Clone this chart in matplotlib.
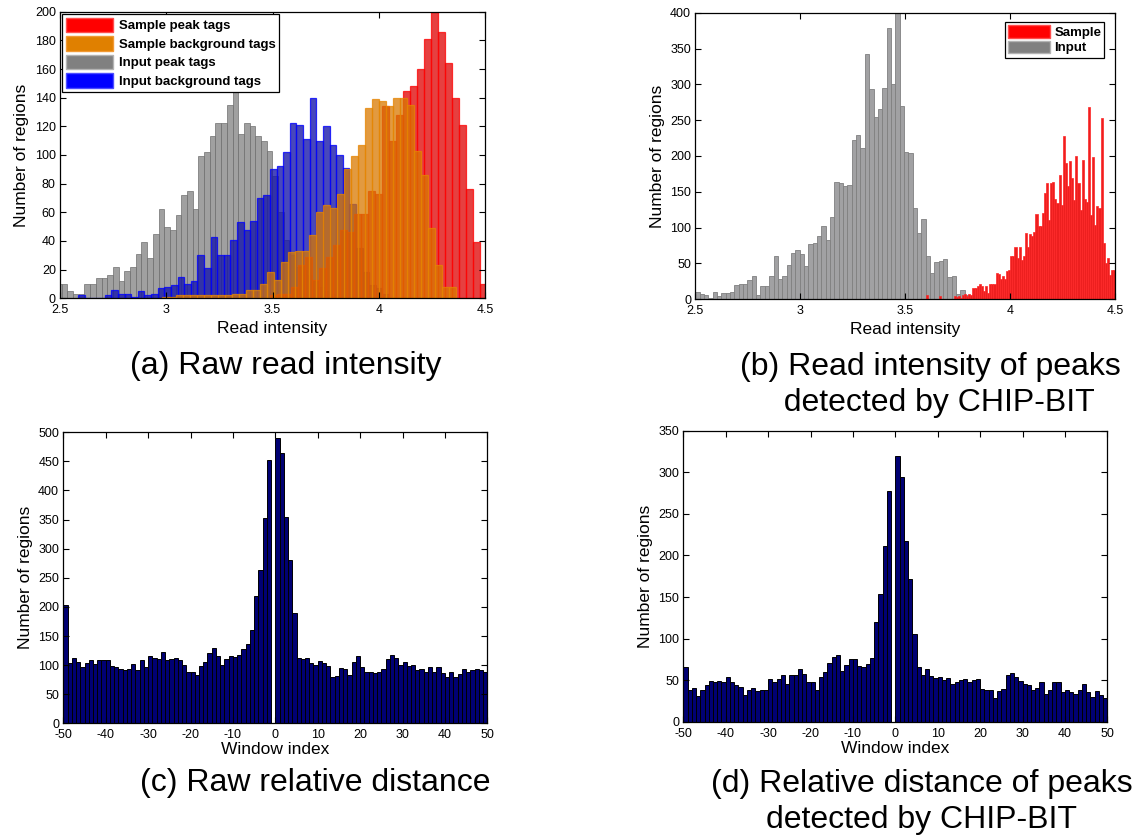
import numpy as np
import matplotlib.pyplot as plt
from matplotlib.patches import Patch

plt.rcParams['font.family'] = ['Liberation Sans', 'DejaVu Sans']
plt.rcParams['axes.unicode_minus'] = False

# ---- (a) raw read intensity: per-series histogram (bin start, bin width, counts)
a_sample_peak_start, a_sample_peak_width = 3.489, 0.0329
a_sample_peak = [2, 3, 3, 8, 23, 29, 13, 21, 29, 37, 48, 46, 59, 59, 75, 73,
                 134, 110, 128, 145, 148, 160, 181, 200, 186, 164, 140, 121, 76, 39, 10]

a_sample_bg_start, a_sample_bg_width = 2.9796, 0.0329
a_sample_bg = [1, 1, 2, 2, 2, 2, 2, 2, 2, 2, 3, 3, 6, 6, 10, 18, 13, 25, 32, 33,
               33, 44, 60, 65, 63, 73, 90, 99, 107, 133, 139, 138, 134, 140, 140,
               135, 103, 86, 49, 23, 8, 8]

a_input_peak_start, a_input_peak_width = 2.481, 0.0268
a_input_peak = [10, 10, 5, 3, 3, 10, 10, 14, 14, 16, 22, 12, 19, 22, 31, 39, 28,
                45, 62, 50, 48, 58, 72, 75, 62, 99, 102, 113, 122, 122, 135, 148,
                115, 122, 120, 113, 110, 103, 85, 60, 41, 30, 22, 20, 16, 12, 8, 5, 3]

a_input_bg_start, a_input_bg_width = 2.5864, 0.0311
a_input_bg = [2, 0, 0, 0, 2, 6, 3, 3, 1, 5, 2, 3, 7, 8, 9, 15, 10, 12, 30, 21,
              43, 30, 30, 41, 53, 48, 54, 70, 72, 90, 92, 102, 122, 121, 111, 140,
              110, 120, 107, 100, 91, 66, 35, 18, 9, 7, 3]

# ---- (b) read intensity of peaks detected by CHIP-BIT
b_input_start, b_input_width = 2.5, 0.0207
b_input = [10, 8, 6.5, 2, 10, 5, 9, 9, 10, 20, 22, 22, 27, 33, 6, 19, 19, 32, 61,
           28, 32, 48, 65, 69, 63, 46, 77, 79, 89, 102, 83, 115, 164, 163, 158,
           160, 223, 230, 211, 342, 294, 255, 265, 295, 378, 300, 400, 270, 206,
           204, 127, 92, 112, 60, 36, 52, 54, 56, 31, 32, 7, 13, 6, 3]

b_sample_start, b_sample_width = 3.6, 0.01
b_sample = [6, 0, 0, 0, 0, 0, 4, 0, 0, 0, 1, 0, 0, 4, 3, 4, 2, 6, 7, 5,
            8, 6, 16, 16, 19, 22, 18, 12, 18, 9, 21, 21, 21, 36, 35, 28, 33, 28, 40, 41,
            60, 60, 73, 58, 73, 55, 60, 92, 73, 91, 88, 94, 119, 102, 102, 121, 149,
            163, 110, 162, 164, 140, 134, 174, 132, 228, 190, 158, 193, 169, 139,
            200, 162, 125, 194, 140, 136, 268, 118, 199, 104, 130, 128, 253, 79,
            50, 58, 34, 41, 41]

# ---- (c), (d) relative distance, windows -50..50 (one count per window)
window_edges = np.arange(-50, 51)
c_counts = [203, 104, 112, 106, 96, 104, 109, 102, 108, 108,
            109, 98, 96, 94, 92, 93, 102, 92, 108, 97,
            116, 112, 110, 122, 109, 110, 112, 108, 101, 89,
            88, 83, 99, 106, 120, 130, 116, 101, 110, 116,
            114, 117, 127, 136, 160, 218, 264, 352, 452, 0,
            490, 465, 355, 280, 190, 112, 110, 113, 104, 100,
            107, 104, 98, 80, 82, 95, 93, 83, 106, 115,
            96, 88, 89, 86, 89, 93, 110, 118, 112, 101,
            105, 99, 100, 91, 94, 89, 97, 88, 97, 86,
            79, 89, 80, 85, 94, 88, 91, 93, 91, 88]
d_counts = [66, 38, 41, 31, 39, 44, 49, 48, 49, 48,
            54, 48, 45, 42, 32, 39, 41, 37, 39, 38,
            52, 48, 52, 56, 46, 56, 57, 64, 58, 48,
            48, 38, 54, 60, 71, 78, 80, 61, 68, 76,
            76, 67, 66, 70, 77, 120, 154, 211, 277, 0,
            320, 294, 217, 172, 106, 66, 56, 64, 55, 53,
            54, 50, 53, 46, 48, 50, 52, 48, 50, 52,
            40, 39, 38, 29, 37, 40, 56, 59, 54, 49,
            46, 44, 38, 41, 48, 34, 38, 48, 48, 36,
            39, 36, 34, 39, 46, 36, 30, 37, 32, 29]


def hist_bars(ax, start, width, counts, **kw):
    left = start + width * np.arange(len(counts))
    ax.bar(left, counts, width=width, align="edge", **kw)


def matlab_axes(ax):
    ax.tick_params(direction="in", top=True, right=True, length=4,
                   labelsize=9, width=0.8)
    ax.tick_params(axis="x", pad=4)
    ax.tick_params(axis="y", pad=3)
    for s in ax.spines.values():
        s.set_linewidth(0.9)


fig = plt.figure(figsize=(11.37, 8.36), dpi=100)
label_size = 12.5

# (a)
ax_a = fig.add_axes([0.0528, 0.6432, 0.3738, 0.3428])
hist_bars(ax_a, a_input_peak_start, a_input_peak_width, a_input_peak,
          color=(0.5, 0.5, 0.5), alpha=0.75, edgecolor=(0.45, 0.45, 0.45), linewidth=0.7)
hist_bars(ax_a, a_input_bg_start, a_input_bg_width, a_input_bg,
          color=(0.08, 0.08, 0.66), alpha=0.78, edgecolor=(0, 0, 1), linewidth=0.9)
hist_bars(ax_a, a_sample_peak_start, a_sample_peak_width, a_sample_peak,
          color=(0.87, 0.0, 0.0), alpha=0.75, edgecolor=(1, 0, 0), linewidth=0.9)
hist_bars(ax_a, a_sample_bg_start, a_sample_bg_width, a_sample_bg,
          color=(0.85, 0.47, 0.0), alpha=0.75, edgecolor=(0.9, 0.52, 0.0), linewidth=0.9)
ax_a.set_xlim(2.5, 4.5)
ax_a.set_ylim(0, 200)
ax_a.set_xticks([2.5, 3, 3.5, 4, 4.5])
ax_a.set_xticklabels(["2.5", "3", "3.5", "4", "4.5"])
ax_a.set_yticks(np.arange(0, 201, 20))
ax_a.set_xlabel("Read intensity", fontsize=label_size)
ax_a.set_ylabel("Number of regions", fontsize=label_size)
matlab_axes(ax_a)
handles_a = [Patch(facecolor=(1, 0, 0), edgecolor=(1, 0.3, 0.3)),
             Patch(facecolor=(0.88, 0.5, 0.0), edgecolor=(0.95, 0.6, 0.2)),
             Patch(facecolor=(0.5, 0.5, 0.5), edgecolor=(0.7, 0.7, 0.7)),
             Patch(facecolor=(0, 0, 1), edgecolor=(0.3, 0.3, 1))]
leg = ax_a.legend(handles_a, ["Sample peak tags", "Sample background tags",
                              "Input peak tags", "Input background tags"],
                  loc="upper left", bbox_to_anchor=(0.0, 1.0), fancybox=False,
                  framealpha=1, edgecolor="black", prop={"weight": "bold", "size": 9.5},
                  handlelength=3.6, handleheight=1.3, handletextpad=0.4,
                  labelspacing=0.3, borderpad=0.3, borderaxespad=0.15)
leg.get_frame().set_linewidth(0.9)

# (b)
ax_b = fig.add_axes([0.6115, 0.6420, 0.3694, 0.3428])
hist_bars(ax_b, b_input_start, b_input_width, b_input,
          color=(0.63, 0.63, 0.64), edgecolor=(0.5, 0.5, 0.5), linewidth=0.6)
hist_bars(ax_b, b_sample_start, b_sample_width, b_sample,
          color=(0.93, 0.12, 0.12), edgecolor=(1, 0.15, 0.15), linewidth=0.5)
ax_b.set_xlim(2.5, 4.5)
ax_b.set_ylim(0, 400)
ax_b.set_xticks([2.5, 3, 3.5, 4, 4.5])
ax_b.set_xticklabels(["2.5", "3", "3.5", "4", "4.5"])
ax_b.set_yticks(np.arange(0, 401, 50))
ax_b.set_xlabel("Read intensity", fontsize=label_size)
ax_b.set_ylabel("Number of regions", fontsize=label_size)
matlab_axes(ax_b)
handles_b = [Patch(facecolor=(1, 0, 0), edgecolor=(1, 0.3, 0.3)),
             Patch(facecolor=(0.5, 0.5, 0.5), edgecolor=(0.7, 0.7, 0.7))]
leg = ax_b.legend(handles_b, ["Sample", "Input"], loc="upper right",
                  bbox_to_anchor=(0.99, 0.99), fancybox=False, framealpha=1,
                  edgecolor="black", prop={"weight": "bold", "size": 9.5},
                  handlelength=3.2, handleheight=1.1, handletextpad=0.3,
                  labelspacing=0.1, borderpad=0.25)
leg.get_frame().set_linewidth(0.9)

# (c), (d)
navy = (0.0, 0.0, 0.45)
for rect, counts, ytop in [([0.0557, 0.1348, 0.3729, 0.3481], c_counts, 500),
                           ([0.6010, 0.1364, 0.3729, 0.3485], d_counts, 350)]:
    ax = fig.add_axes(rect)
    ax.bar(window_edges[:-1], counts, width=1, align="edge",
           color=navy, edgecolor="black", linewidth=0.7)
    ax.set_xlim(-50, 50)
    ax.set_ylim(0, ytop)
    ax.set_xticks(np.arange(-50, 51, 10))
    ax.set_yticks(np.arange(0, ytop + 1, 50))
    ax.set_xlabel("Window index", fontsize=label_size, labelpad=1)
    ax.set_ylabel("Number of regions", fontsize=label_size)
    matlab_axes(ax)

# captions
cap = 23
fig.text(286 / 1137, 1 - 366 / 836, "(a) Raw read intensity", fontsize=cap,
         ha="center", va="center")
fig.text(930 / 1137, 1 - 385 / 836, "(b) Read intensity of peaks\n  detected by CHIP-BIT",
         fontsize=cap, ha="center", va="center", linespacing=1.22)
fig.text(315 / 1137, 1 - 783 / 836, "(c) Raw relative distance", fontsize=cap,
         ha="center", va="center")
fig.text(922 / 1137, 1 - 802 / 836, "(d) Relative distance of peaks\ndetected by CHIP-BIT",
         fontsize=cap, ha="center", va="center", linespacing=1.22)

fig.savefig("out.png", dpi=100)
